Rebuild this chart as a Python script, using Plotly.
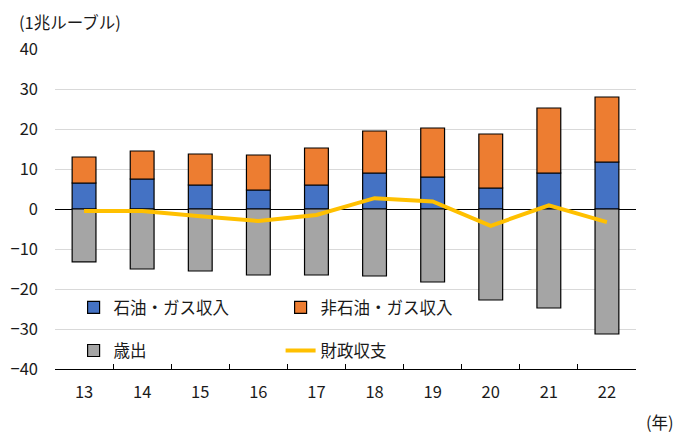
import plotly.graph_objects as go

years = ["13", "14", "15", "16", "17", "18", "19", "20", "21", "22"]
oil_gas = [6.5, 7.5, 6.0, 4.75, 6.0, 9.0, 8.0, 5.25, 9.0, 11.75]
non_oil_gas = [6.5, 7.0, 7.75, 8.75, 9.25, 10.5, 12.25, 13.5, 16.25, 16.25]
expenditure = [-13.2, -15.0, -15.5, -16.5, -16.5, -16.75, -18.25, -22.75, -24.75, -31.25]
balance = [-0.5, -0.5, -1.8, -3.0, -1.5, 2.7, 1.9, -4.2, 0.9, -3.3]

FONT = "Noto Sans CJK JP"
TXT = "#1a1a1a"
FS = 16.5
outline = dict(color="black", width=1.2)

fig = go.Figure()
fig.add_trace(go.Bar(x=years, y=oil_gas, name="石油・ガス収入", marker=dict(color="#4472C4", line=outline), legend="legend"))
fig.add_trace(go.Bar(x=years, y=non_oil_gas, name="非石油・ガス収入", marker=dict(color="#ED7D31", line=outline), legend="legend"))
fig.add_trace(go.Bar(x=years, y=expenditure, name="歳出", marker=dict(color="#A5A5A5", line=outline), legend="legend2"))
fig.add_trace(go.Scatter(x=years, y=balance, name="財政収支", mode="lines", line=dict(color="#FFC000", width=4), legend="legend2"))

legend_common = dict(orientation="h", xanchor="left", yanchor="middle", bgcolor="rgba(0,0,0,0)",
                     font=dict(family=FONT, size=FS, color=TXT), entrywidth=162, itemwidth=30,
                     traceorder="normal")

fig.update_layout(
    width=674, height=430,
    margin=dict(l=47, r=46, t=41, b=69),
    paper_bgcolor="white", plot_bgcolor="white",
    barmode="relative", bargap=0.59,
    font=dict(family=FONT, size=FS, color=TXT),
    showlegend=True,
    legend=dict(x=0.032, y=0.192, **legend_common),
    legend2=dict(x=0.032, y=0.057, **legend_common),
    xaxis=dict(showline=True, linecolor="black", linewidth=1.2, ticks="inside", tickson="boundaries",
               ticklen=5, tickcolor="black", tickfont=dict(size=FS, family=FONT, color=TXT),
               showgrid=False, ticklabelstandoff=8, automargin=False),
    yaxis=dict(range=[-40, 40], dtick=10, showgrid=True, gridcolor="#D9D9D9", gridwidth=1,
               zeroline=True, zerolinecolor="black", zerolinewidth=1.2, automargin=False,
               tickfont=dict(size=FS, family=FONT, color=TXT), ticklabelstandoff=16, showline=False),
    annotations=[
        dict(text="(1兆ルーブル)", xref="paper", yref="paper", x=-0.066, y=1.085, xanchor="left", yanchor="middle",
             showarrow=False, font=dict(family=FONT, size=FS, color=TXT)),
        dict(text="(年)", xref="paper", yref="paper", x=1.069, y=-0.166, xanchor="right", yanchor="middle",
             showarrow=False, font=dict(family=FONT, size=FS, color=TXT)),
    ],
)

fig.write_html("out.html")
